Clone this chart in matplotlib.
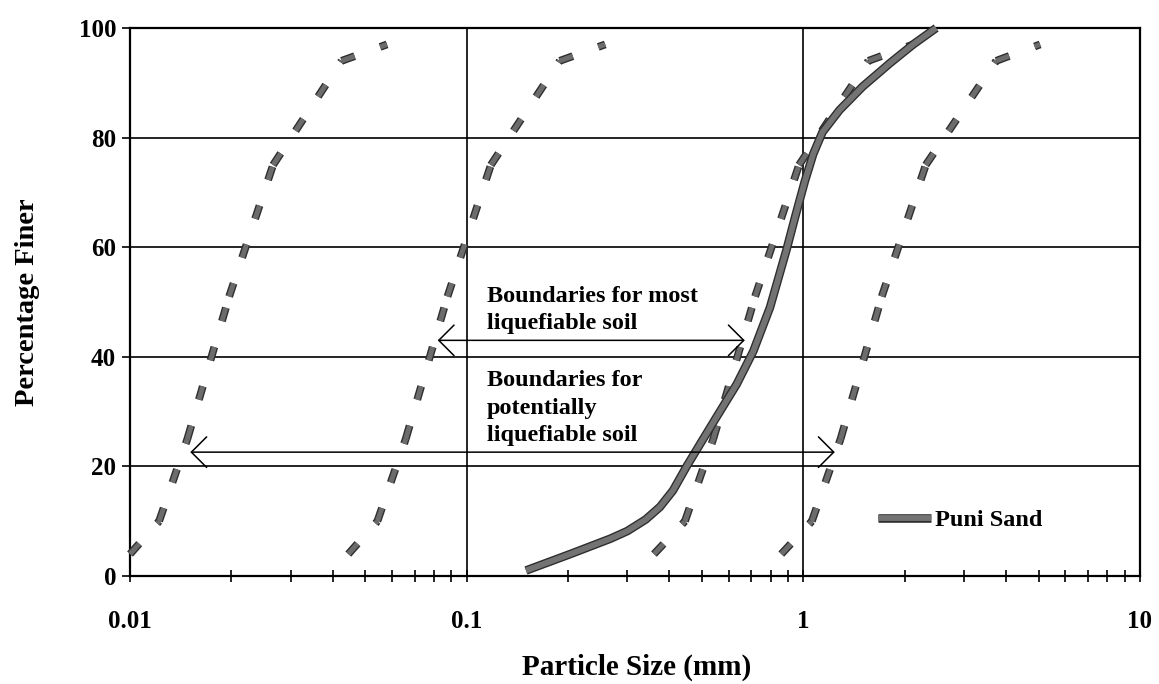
import matplotlib
matplotlib.use("Agg")
import matplotlib.pyplot as plt
import matplotlib.patheffects as pe
from matplotlib.ticker import LogLocator, NullFormatter

plt.rcParams['font.family'] = ['Liberation Serif', 'DejaVu Serif']
plt.rcParams['font.weight'] = 'bold'
plt.rcParams['lines.scale_dashes'] = False

# boundary curves (grain size in mm, percent finer)
bound_y = [4, 10, 25, 51, 75, 94, 97]
bound_a_x = [0.0100, 0.0122, 0.0148, 0.0197, 0.0266, 0.0425, 0.0580]
bound_b_x = [0.0445, 0.0543, 0.0659, 0.0877, 0.1180, 0.1890, 0.2580]
bound_c_x = [0.3600, 0.4450, 0.5400, 0.7190, 0.9710, 1.5600, 2.1200]
bound_d_x = [0.8600, 1.0600, 1.2900, 1.7100, 2.3100, 3.7400, 5.0500]

# Puni sand gradation
puni_x = [0.150, 0.203, 0.267, 0.300, 0.340, 0.375, 0.410, 0.450, 0.504, 0.565,
          0.634, 0.710, 0.796, 0.891, 0.950, 1.010, 1.070, 1.140, 1.280, 1.500,
          1.810, 2.120, 2.480]
puni_y = [1, 4, 6.8, 8.2, 10.3, 12.6, 15.6, 20, 25, 30,
          35, 41, 49, 59.5, 66, 72, 77, 81, 85, 89.3,
          93.6, 97, 100]

yticks = [0, 20, 40, 60, 80, 100]
xticks = [0.01, 0.1, 1, 10]
xticklabels = ['0.01', '0.1', '1', '10']

fig = plt.figure(figsize=(11.59, 6.84), dpi=100)
ax = fig.add_axes([0.1122, 0.1579, 0.8714, 0.8012])
ax.set_xscale('log')
ax.set_xlim(0.01, 10)
ax.set_ylim(0, 100)

# grid: decades and every 20 %
for gx in [0.1, 1]:
    ax.axvline(gx, color='black', lw=1.2, zorder=1)
for gy in [20, 40, 60, 80]:
    ax.axhline(gy, color='black', lw=1.2, zorder=1)

dash_fx = [pe.Stroke(linewidth=5.6, foreground='#2e2e2e'),
           pe.Normal()]
for bx in [bound_a_x, bound_b_x, bound_c_x, bound_d_x]:
    # each segment starts its own dash pattern
    for i in range(len(bx) - 1):
        ax.plot(bx[i:i + 2], bound_y[i:i + 2], color='#6c6c6c', lw=3.6,
                dashes=(10, 19.5), solid_capstyle='butt', dash_capstyle='butt',
                path_effects=dash_fx, zorder=3, clip_on=False)

ax.plot(puni_x, puni_y, color='#737373', lw=4.2, label='Puni Sand',
        solid_capstyle='butt', solid_joinstyle='round', zorder=4, clip_on=False,
        path_effects=[pe.Stroke(linewidth=6.2, foreground='#2e2e2e'), pe.Normal()])

arrow = dict(arrowstyle='<->,head_length=1.1,head_width=1.1', color='black',
             lw=1.1, shrinkA=0, shrinkB=0, mutation_scale=10)
ax.annotate('', xy=(0.082, 43), xytext=(0.67, 43), arrowprops=arrow, zorder=5)
ax.annotate('', xy=(0.0151, 22.6), xytext=(1.24, 22.6), arrowprops=arrow, zorder=5)

ax.text(0.115, 48.5, 'Boundaries for most\nliquefiable soil', fontsize=17.5,
        ha='left', va='center', linespacing=1.4, zorder=6)
ax.text(0.115, 30.6, 'Boundaries for\npotentially\nliquefiable soil', fontsize=17.5,
        ha='left', va='center', linespacing=1.4, zorder=6)

ax.set_yticks(yticks)
ax.set_xticks(xticks)
ax.set_xticklabels(xticklabels)
ax.xaxis.set_minor_locator(LogLocator(base=10, subs=range(2, 10)))
ax.xaxis.set_minor_formatter(NullFormatter())
ax.tick_params(axis='x', which='both', direction='inout', length=9, width=1.2,
               labelsize=18, pad=20)
ax.tick_params(axis='y', direction='out', length=6, width=1.2, labelsize=18, pad=4)

for s in ax.spines.values():
    s.set_linewidth(1.6)

ax.legend(loc='center left', bbox_to_anchor=(0.7406, 0.102), frameon=False,
          fontsize=17.5, handlelength=2.2, handletextpad=0.15,
          borderpad=0, borderaxespad=0)

fig.text(28 / 1159, 1 - 302 / 684, 'Percentage Finer', rotation=90,
         ha='center', va='center', fontsize=20.5)
fig.text(637 / 1159, 1 - 667 / 684, 'Particle Size (mm)',
         ha='center', va='center', fontsize=21)

fig.savefig('out.png', dpi=100)
